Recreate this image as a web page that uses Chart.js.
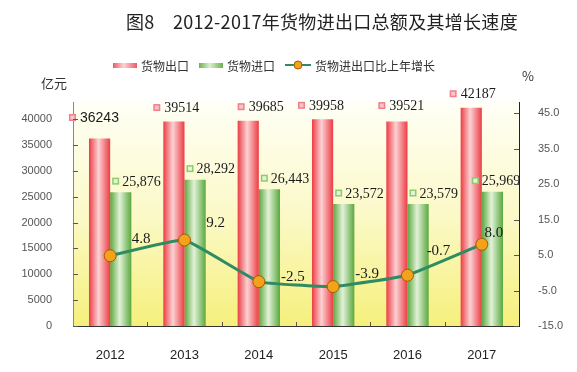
<!DOCTYPE html>
<html>
<head>
<meta charset="utf-8">
<script src="https://cdn.jsdelivr.net/npm/chart.js@4.4.0/dist/chart.umd.min.js"></script>
<style>
    html, body { margin: 0; padding: 0; background: #fff; }
    #wrap { position: relative; width: 577px; height: 372px; overflow: hidden; font-family: "Noto Sans CJK SC", sans-serif; }
    #chart { position: absolute; left: 0; top: 0; }
    .title { position: absolute; left: 126px; top: 8px; font-size: 18px; letter-spacing: 0.3px; color: #222; white-space: nowrap; }
    .unit { position: absolute; font-size: 13px; color: #333; white-space: nowrap; }
    .legend { position: absolute; left: 113px; top: 56px; height: 18px; font-size: 12px; color: #333; display: flex; align-items: center; white-space: nowrap; }
    .legend .sw { display: inline-block; width: 24px; height: 5px; margin-right: 4px; }
    .legend .item { display: flex; align-items: center; margin-right: 10px; }
    .sw.red { background: linear-gradient(to right, #ee5a66, #fbd4d8 45%, #ee5a66); }
    .sw.green { background: linear-gradient(to right, #6cb04c, #dcefd0 45%, #6cb04c); }
</style>
</head>
<body>
<div id="wrap">
    <canvas id="chart" width="577" height="372"></canvas>
    <div class="title">图8　2012-2017年货物进出口总额及其增长速度</div>
    <div class="legend">
        <span class="item"><span class="sw red"></span>货物出口</span>
        <span class="item"><span class="sw green"></span>货物进口</span>
        <span class="item">
            <svg width="26" height="10" style="margin-right:4px"><line x1="0" y1="5" x2="26" y2="5" stroke="#2e8b62" stroke-width="2"/><circle cx="13" cy="5" r="4" fill="#f3a31b" stroke="#a85a00" stroke-width="1"/></svg>货物进出口比上年增长
        </span>
    </div>
    <div class="unit" style="left:41px; top:73px;">亿元</div>
    <div class="unit" style="left:522px; top:66px;">%</div>
</div>
<script>
// 数据
const years = ['2012', '2013', '2014', '2015', '2016', '2017'];
const exportValues = [36243, 39514, 39685, 39958, 39521, 42187];
const importValues = [25876, 28292, 26443, 23572, 23579, 25969];
const growthRates = [4.8, 9.2, -2.5, -3.9, -0.7, 8.0];
const leftTickValues = [0, 5000, 10000, 15000, 20000, 25000, 30000, 35000, 40000];
const rightTickValues = [-15, -5, 5, 15, 25, 35, 45];

const BAR_SHARE = 0.57;

// 柱子横向渐变
function barFill(context, side, edge, light) {
    const chart = context.chart;
    const xScale = chart.scales.x;
    if (!chart.chartArea || !xScale || context.dataIndex === undefined) return edge;
    const center = xScale.getPixelForValue(context.dataIndex);
    const w = (xScale.width / years.length) * BAR_SHARE / 2;
    const left = side < 0 ? center - w : center;
    const g = chart.ctx.createLinearGradient(left, 0, left + w, 0);
    g.addColorStop(0, edge);
    g.addColorStop(0.45, light);
    g.addColorStop(1, edge);
    return g;
}

// 绘图区背景
const plotBackground = {
    id: 'plotBackground',
    beforeDraw(chart) {
        const { ctx, chartArea: a } = chart;
        const g = ctx.createLinearGradient(0, a.top, 0, a.bottom);
        g.addColorStop(0, '#fffff6');
        g.addColorStop(0.5, '#fbf9c8');
        g.addColorStop(1, '#f5f07c');
        ctx.save();
        ctx.fillStyle = g;
        ctx.fillRect(a.left, a.top, a.right - a.left, a.bottom - a.top);
        ctx.restore();
    }
};

// 向内的刻度线
const innerTicks = {
    id: 'innerTicks',
    afterDraw(chart) {
        const { ctx, chartArea: a, scales } = chart;
        ctx.save();
        ctx.lineWidth = 1;
        ctx.strokeStyle = '#555';
        ctx.beginPath();
        leftTickValues.forEach(v => {
            const y = Math.round(scales.y.getPixelForValue(v)) + 0.5;
            ctx.moveTo(a.left, y); ctx.lineTo(a.left + 5, y);
        });
        rightTickValues.forEach(v => {
            const y = Math.round(scales.y1.getPixelForValue(v)) + 0.5;
            ctx.moveTo(a.right, y); ctx.lineTo(a.right - 5, y);
        });
        for (let i = 1; i < years.length; i++) {
            const x = Math.round(a.left + i * (a.right - a.left) / years.length) + 0.5;
            ctx.moveTo(x, a.bottom); ctx.lineTo(x, a.bottom - 4);
        }
        ctx.stroke();
        ctx.restore();
    }
};

// 数据标签
const exportShift = [[-10, -7], [0, 0], [10, 0], [-4, 0], [2, -2], [-1, 0]];
const importShift = [[0, 0], [0, 0], [0, 0], [0, 0], [0, 0], [-12, 0]];
const rateShift = [[31, -17], [31, -17], [34, -5], [34, -13], [31, -24], [12, -11]];

function drawMarker(ctx, x, y, fill, stroke) {
    ctx.fillStyle = stroke;
    ctx.fillRect(x - 3.5, y - 3.5, 7, 7);
    ctx.fillStyle = fill;
    ctx.fillRect(x - 2, y - 2, 4, 4);
}

const valueLabels = {
    id: 'valueLabels',
    afterDatasetsDraw(chart) {
        const ctx = chart.ctx;
        ctx.save();
        ctx.textBaseline = 'middle';
        ctx.fillStyle = '#1a1a1a';

        chart.getDatasetMeta(1).data.forEach((bar, i) => {
            const left = bar.x - bar.width / 2 - 10 + exportShift[i][0];
            const y = bar.y - 14 + exportShift[i][1];
            drawMarker(ctx, left + 3.5, y, '#fbc4c8', '#ef7f8a');
            ctx.fillStyle = '#1a1a1a';
            ctx.textAlign = 'left';
            ctx.font = i === 0 ? '14px "Liberation Sans", Arial' : '14px "Liberation Serif", "Times New Roman"';
            ctx.fillText(String(exportValues[i]), left + 11, y + 1);
        });

        chart.getDatasetMeta(2).data.forEach((bar, i) => {
            const left = bar.x - bar.width / 2 + 2 + importShift[i][0];
            const y = bar.y - 11 + importShift[i][1];
            drawMarker(ctx, left + 3.5, y, '#e4f4d8', '#8ccc6c');
            ctx.fillStyle = '#1a1a1a';
            ctx.textAlign = 'left';
            ctx.font = '14px "Liberation Serif", "Times New Roman"';
            ctx.fillText(importValues[i].toLocaleString('en-US'), left + 10, y + 1);
        });

        chart.getDatasetMeta(0).data.forEach((pt, i) => {
            ctx.fillStyle = '#1a1a1a';
            ctx.textAlign = 'center';
            ctx.font = '15px "Liberation Serif", "Times New Roman"';
            ctx.fillText(growthRates[i].toFixed(1), pt.x + rateShift[i][0], pt.y + rateShift[i][1]);
        });
        ctx.restore();
    }
};

new Chart(document.getElementById('chart'), {
    data: {
        labels: years,
        datasets: [
            {
                type: 'line',
                label: '货物进出口比上年增长',
                data: growthRates,
                yAxisID: 'y1',
                order: 0,
                borderColor: '#2e8b62',
                borderWidth: 3,
                tension: 0.1,
                pointRadius: 6,
                pointBackgroundColor: '#f3a31b',
                pointBorderColor: '#a85a00',
                pointBorderWidth: 1
            },
            {
                type: 'bar',
                label: '货物出口',
                data: exportValues,
                yAxisID: 'y',
                order: 1,
                backgroundColor: ctx => barFill(ctx, -1, '#ec3c44', '#fbd2d4')
            },
            {
                type: 'bar',
                label: '货物进口',
                data: importValues,
                yAxisID: 'y',
                order: 1,
                backgroundColor: ctx => barFill(ctx, 1, '#5aa83e', '#e2f2d8')
            }
        ]
    },
    options: {
        responsive: false,
        animation: false,
        devicePixelRatio: 1,
        layout: { padding: { top: 102, left: 0, right: 0, bottom: 0 } },
        datasets: {
            bar: { categoryPercentage: BAR_SHARE, barPercentage: 1.0 }
        },
        plugins: {
            legend: { display: false },
            tooltip: { enabled: false },
            title: { display: false }
        },
        scales: {
            x: {
                grid: { display: false },
                border: { display: true, color: '#333' },
                ticks: { color: '#222', font: { family: 'Liberation Sans, Arial', size: 13 }, padding: 14 },
                afterFit(scale) { scale.height = 46; }
            },
            y: {
                position: 'left',
                min: 0,
                max: 43300,
                grid: { display: false },
                border: { display: true, color: '#888' },
                ticks: {
                    color: '#555',
                    font: { family: 'Liberation Sans, Arial', size: 11 },
                    padding: 13,
                    callback: v => String(v)
                },
                afterBuildTicks(scale) { scale.ticks = leftTickValues.map(v => ({ value: v })); },
                afterFit(scale) { scale.width = 73; }
            },
            y1: {
                position: 'right',
                min: -15,
                max: 48.1,
                grid: { display: false },
                border: { display: true, color: '#222' },
                ticks: {
                    color: '#555',
                    font: { family: 'Liberation Sans, Arial', size: 11 },
                    padding: 11,
                    callback: v => Number(v).toFixed(1)
                },
                afterBuildTicks(scale) { scale.ticks = rightTickValues.map(v => ({ value: v })); },
                afterFit(scale) { scale.width = 58; }
            }
        }
    },
    plugins: [plotBackground, innerTicks, valueLabels]
});
</script>
</body>
</html>
